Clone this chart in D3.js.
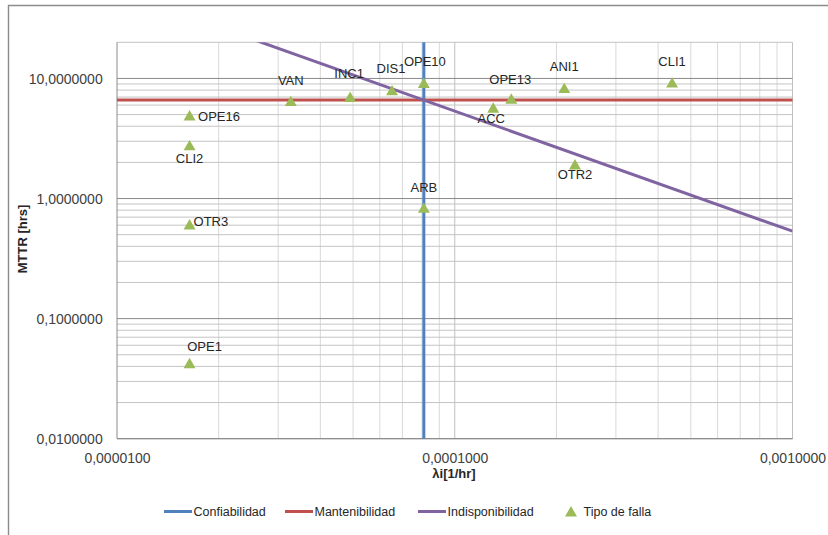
<!DOCTYPE html>
<html>
<head>
<meta charset="utf-8">
<script src="https://cdn.jsdelivr.net/npm/d3@7/dist/d3.min.js"></script>
<style>
  html, body { margin: 0; padding: 0; background: #fff; }
  svg { display: block; font-family: "Liberation Sans", Arial, sans-serif; }
</style>
</head>
<body>
<svg id="chart" width="828" height="535"></svg>
<script>
// Failure types: failure rate λi [1/hr] and mean time to repair [hrs]
const failureNames = ["VAN", "INC1", "DIS1", "OPE10", "ARB", "ACC", "OPE13", "ANI1", "OTR2", "CLI1", "OPE16", "CLI2", "OTR3", "OPE1"];
const failureRates = [3.27e-5, 4.9e-5, 6.52e-5, 8.1e-5, 8.1e-5, 1.30e-4, 1.47e-4, 2.11e-4, 2.27e-4, 4.4e-4, 1.64e-5, 1.64e-5, 1.64e-5, 1.64e-5];
const failureMTTR  = [6.5, 7.03, 7.99, 9.2, 0.84, 5.73, 6.81, 8.35, 1.93, 9.26, 4.94, 2.78, 0.61, 0.0427];

// Reference limits
const reliabilityLimit = 8.1e-5;      // Confiabilidad: λi limit
const maintainabilityLimit = 6.6;     // Mantenibilidad: MTTR limit
const unavailabilityLimit = reliabilityLimit * maintainabilityLimit; // Indisponibilidad: λi·MTTR

// Axis ticks
const xTickValues = [1e-5, 1e-4, 1e-3];
const yTickValues = [0.01, 0.1, 1, 10];

const legendNames = ["Confiabilidad", "Mantenibilidad", "Indisponibilidad", "Tipo de falla"];
const seriesColors = ["#4F81BD", "#C0504D", "#8064A2", "#9BBB59"];

// Data label placement around each marker: [dx, dy (baseline), anchor]
const labelPlacement = [
  [0, -15.5, "middle"], [-1, -18.5, "middle"], [-1, -17.5, "middle"], [1, -16.5, "middle"],
  [0, -16, "middle"], [-2, 16, "middle"], [-1, -14, "middle"], [0, -17, "middle"],
  [0, 14.5, "middle"], [0, -16.5, "middle"], [8.5, 5.5, "start"], [0, 17.5, "middle"],
  [4, 2, "start"], [15, -12, "middle"]
];

const svg = d3.select("#chart");
const pLeft = 117, pRight = 792.5, pTop = 42.3, pBottom = 438.7;

const x = d3.scaleLog().domain([1e-5, 1e-3]).range([pLeft, pRight]);
const y = d3.scaleLog().domain([0.01, 20]).range([pBottom, pTop]);

// Outer chart frame (left and top edges)
svg.append("path")
  .attr("d", "M8.5,535 V5.5 H828")
  .attr("fill", "none").attr("stroke", "#8c8c8c").attr("stroke-width", 1.4);

const fmt = v => v.toFixed(7).replace(".", ",");

// Grid
const grid = svg.append("g");
const xMinor = [];
for (let e = -5; e < -3; e++) for (let m = 2; m <= 10; m++) xMinor.push(m * Math.pow(10, e));
grid.selectAll("line.vx").data(xMinor).enter().append("line")
  .attr("x1", d => x(d)).attr("x2", d => x(d))
  .attr("y1", pTop).attr("y2", pBottom)
  .attr("stroke", d => (Math.abs(Math.log10(d) - Math.round(Math.log10(d))) < 1e-9) ? "#bfbfbf" : "#d9d9d9")
  .attr("stroke-width", 1);

const yMinor = [];
for (let e = -2; e <= 1; e++) for (let m = 2; m <= 9; m++) {
  const v = m * Math.pow(10, e);
  if (v <= 20 + 1e-9) yMinor.push(v);
}
grid.selectAll("line.hm").data(yMinor).enter().append("line")
  .attr("x1", pLeft).attr("x2", pRight)
  .attr("y1", d => y(d)).attr("y2", d => y(d))
  .attr("stroke", "#c4c4c4").attr("stroke-width", 1);
grid.selectAll("line.hM").data(yTickValues).enter().append("line")
  .attr("x1", pLeft).attr("x2", pRight)
  .attr("y1", d => y(d)).attr("y2", d => y(d))
  .attr("stroke", "#8a8a8a").attr("stroke-width", 1);

// Axis lines
svg.append("line").attr("x1", pLeft).attr("x2", pLeft).attr("y1", pTop).attr("y2", pBottom)
  .attr("stroke", "#8a8a8a");
svg.append("line").attr("x1", pLeft).attr("x2", pRight).attr("y1", pBottom).attr("y2", pBottom)
  .attr("stroke", "#8a8a8a");

// Tick labels via d3 axes (tick lines hidden)
const xAxis = d3.axisBottom(x).tickValues(xTickValues).tickFormat(fmt).tickSize(0).tickPadding(0);
const gx = svg.append("g").attr("transform", `translate(0,${pBottom})`).call(xAxis);
gx.select(".domain").remove();
gx.selectAll("text").attr("dy", null).attr("y", 24)
  .attr("font-size", 14).attr("fill", "#404040").attr("font-family", "Liberation Sans, Arial, sans-serif");

const yAxis = d3.axisLeft(y).tickValues(yTickValues).tickFormat(fmt).tickSize(0).tickPadding(0);
const gy = svg.append("g").attr("transform", `translate(${102.7},0)`).call(yAxis);
gy.select(".domain").remove();
gy.selectAll("text").attr("dy", null).attr("x", 0).attr("y", 5)
  .attr("font-size", 14).attr("fill", "#404040").attr("font-family", "Liberation Sans, Arial, sans-serif");

// Axis titles
svg.append("text").attr("x", 454).attr("y", 478).attr("text-anchor", "middle")
  .attr("font-size", 13).attr("font-weight", "bold").attr("fill", "#262626").text("λi[1/hr]");
svg.append("text").attr("transform", "translate(27,239) rotate(-90)").attr("text-anchor", "middle")
  .attr("font-size", 13).attr("font-weight", "bold").attr("fill", "#262626").text("MTTR [hrs]");

// Limit lines
const plot = svg.append("g");
plot.append("clipPath").attr("id", "clip").append("rect")
  .attr("x", pLeft).attr("y", pTop).attr("width", pRight - pLeft).attr("height", pBottom - pTop);

plot.append("line")
  .attr("x1", x(reliabilityLimit)).attr("x2", x(reliabilityLimit))
  .attr("y1", pTop).attr("y2", pBottom)
  .attr("stroke", seriesColors[0]).attr("stroke-width", 3);

plot.append("line")
  .attr("x1", pLeft).attr("x2", pRight)
  .attr("y1", y(maintainabilityLimit)).attr("y2", y(maintainabilityLimit))
  .attr("stroke", seriesColors[1]).attr("stroke-width", 3);

const uPoints = [1e-5, 1e-3].map(l => [l, unavailabilityLimit / l]);
plot.append("path")
  .attr("clip-path", "url(#clip)")
  .attr("d", d3.line().x(d => x(d[0])).y(d => y(d[1]))(uPoints))
  .attr("fill", "none").attr("stroke", seriesColors[2]).attr("stroke-width", 3);

// Failure-type markers (triangle box centred on the point)
const failures = failureNames.map((n, i) => ({ name: n, rate: failureRates[i], mttr: failureMTTR[i], pos: labelPlacement[i] }));
const tri = d3.symbol().type(d3.symbolTriangle).size(62);
plot.selectAll("path.pt").data(failures).enter().append("path")
  .attr("transform", d => `translate(${x(d.rate)},${y(d.mttr) + 1.7})`)
  .attr("d", tri).attr("fill", seriesColors[3]);

plot.selectAll("text.lbl").data(failures).enter().append("text")
  .attr("x", d => x(d.rate) + d.pos[0])
  .attr("y", d => y(d.mttr) + d.pos[1])
  .attr("text-anchor", d => d.pos[2])
  .attr("font-size", 13).attr("fill", "#262626")
  .text(d => d.name);

// Legend
const legendX = [164, 285, 418, 571];
const lg = svg.append("g");
legendNames.forEach((name, i) => {
  if (i < 3) {
    lg.append("line").attr("x1", legendX[i]).attr("x2", legendX[i] + 28)
      .attr("y1", 511.5).attr("y2", 511.5)
      .attr("stroke", seriesColors[i]).attr("stroke-width", 3);
    lg.append("text").attr("x", legendX[i] + 29.5).attr("y", 516)
      .attr("font-size", 12.5).attr("fill", "#262626").text(name);
  } else {
    lg.append("path").attr("transform", `translate(${legendX[i]},${513})`)
      .attr("d", tri).attr("fill", seriesColors[3]);
    lg.append("text").attr("x", legendX[i] + 12.5).attr("y", 516)
      .attr("font-size", 12.5).attr("fill", "#262626").text(name);
  }
});
</script>
</body>
</html>
